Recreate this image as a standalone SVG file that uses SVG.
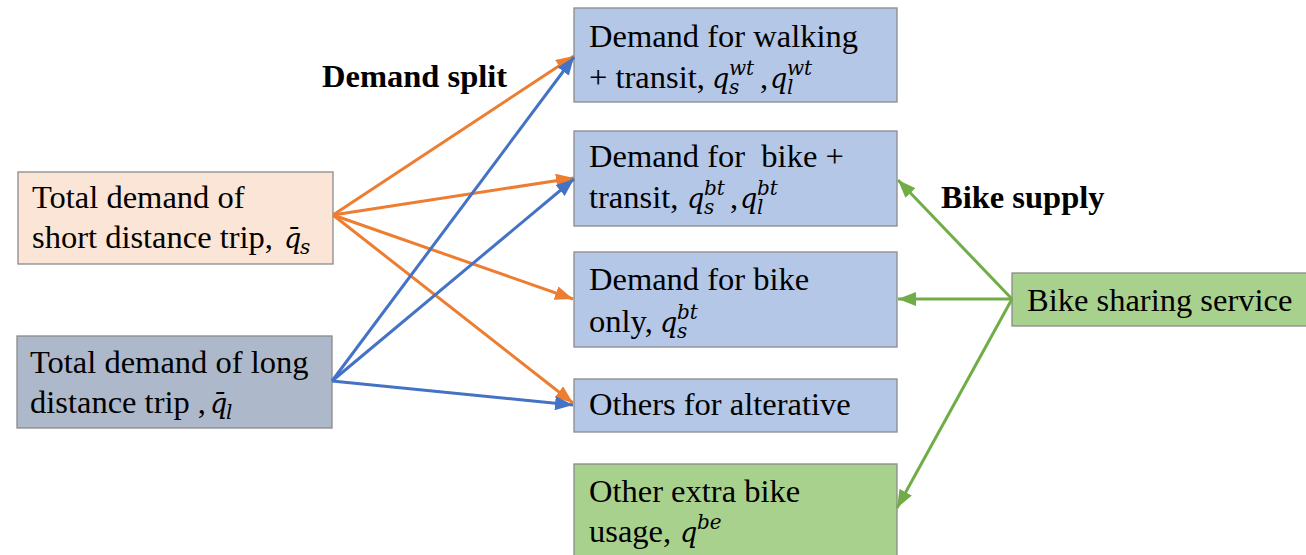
<svg xmlns="http://www.w3.org/2000/svg" width="1306" height="555" viewBox="0 0 1306 555">
  <style>
    .box { stroke: #8a8a8a; stroke-width: 1.3; }
    .blue { fill: #B4C7E7; }
    .peach { fill: #FBE5D6; }
    .slate { fill: #ADB9CA; }
    .green { fill: #A9D18E; }
    .t { font-size: 32.5px; }
    .m { font-family: "DejaVu Serif", serif; font-size: 27px; font-style: italic; }
    .s { font-family: "DejaVu Serif", serif; font-size: 20px; font-style: italic; }
    .lbl { font-size: 32.5px; font-weight: bold; }
    .c { fill: none; stroke-width: 3; }
    .or { stroke: #ED7D31; }
    .bl { stroke: #4472C4; }
    .gr { stroke: #70AD47; }
  </style>
  <defs>
    <marker id="ahO" markerUnits="userSpaceOnUse" markerWidth="18" markerHeight="14" refX="18" refY="7" orient="auto">
      <path d="M0,0 L18,7 L0,14 z" fill="#ED7D31"/>
    </marker>
    <marker id="ahB" markerUnits="userSpaceOnUse" markerWidth="18" markerHeight="14" refX="18" refY="7" orient="auto">
      <path d="M0,0 L18,7 L0,14 z" fill="#4472C4"/>
    </marker>
    <marker id="ahG" markerUnits="userSpaceOnUse" markerWidth="18" markerHeight="14" refX="18" refY="7" orient="auto">
      <path d="M0,0 L18,7 L0,14 z" fill="#70AD47"/>
    </marker>
  </defs>

  <rect width="1306" height="555" fill="#fff"/>

  <g font-family="Liberation Serif, serif" fill="#000">
    <!-- source nodes -->
    <g id="short-trip">
      <rect class="box peach" x="18" y="172" width="315" height="92"/>
      <text class="t" x="32" y="208">Total demand of</text>
      <text class="t" x="32" y="248">short distance trip,</text>
      <text class="m" x="284" y="248">q&#x0304;</text>
      <text class="s" x="300" y="254">s</text>
    </g>

    <g id="long-trip">
      <rect class="box slate" x="17" y="336" width="315" height="92"/>
      <text class="t" x="30" y="413" xml:space="preserve">distance trip ,</text>
      <text class="t" x="30" y="373">Total demand of long</text>
      <text class="m" x="210" y="413">q&#x0304;</text>
      <text class="s" x="226" y="419">l</text>
    </g>

    <!-- demand split targets -->
    <g id="walk-transit">
      <rect class="box blue" x="574" y="8" width="323" height="94"/>
      <text class="t" x="589" y="47">Demand for walking</text>
      <text class="t" x="589" y="88">+ transit,</text>
      <text class="m" x="712" y="88">q</text>
      <text class="s" x="729" y="94">s</text>
      <text class="s" x="729" y="75">wt</text>
      <text class="t" x="760" y="88">,</text>
      <text class="m" x="770" y="88">q</text>
      <text class="s" x="787" y="94">l</text>
      <text class="s" x="787" y="75">wt</text>
    </g>

    <g id="bike-transit">
      <rect class="box blue" x="574" y="131" width="323" height="95"/>
      <text class="t" x="589" y="167" xml:space="preserve">Demand for  bike +</text>
      <text class="t" x="589" y="208">transit,</text>
      <text class="m" x="687" y="208">q</text>
      <text class="s" x="704" y="214">s</text>
      <text class="s" x="704" y="195">bt</text>
      <text class="t" x="730" y="208">,</text>
      <text class="m" x="740" y="208">q</text>
      <text class="s" x="757" y="214">l</text>
      <text class="s" x="757" y="195">bt</text>
    </g>

    <g id="bike-only">
      <rect class="box blue" x="574" y="252" width="323" height="95"/>
      <text class="t" x="589" y="290">Demand for bike</text>
      <text class="t" x="589" y="332">only,</text>
      <text class="m" x="660" y="332">q</text>
      <text class="s" x="677" y="338">s</text>
      <text class="s" x="677" y="319">bt</text>
    </g>

    <g id="alternative">
      <rect class="box blue" x="574" y="379" width="323" height="53"/>
      <text class="t" x="589" y="415">Others for alterative</text>
    </g>

    <g id="extra-bike">
      <rect class="box green" x="574" y="464" width="323" height="93"/>
      <text class="t" x="589" y="502">Other extra bike</text>
      <text class="t" x="589" y="542">usage,</text>
      <text class="m" x="680" y="542">q</text>
      <text class="s" x="697" y="529">be</text>
    </g>

    <g id="bike-sharing">
      <rect class="box green" x="1012" y="273" width="300" height="53"/>
      <text class="t" x="1027" y="311">Bike sharing service</text>
    </g>

    <!-- section labels -->
    <text class="lbl" x="322" y="87">Demand split</text>
    <text class="lbl" x="941" y="208">Bike supply</text>
  </g>

  <!-- connectors -->
  <g id="connectors">
    <line class="c or" x1="333" y1="215" x2="574" y2="56" marker-end="url(#ahO)"/>
    <line class="c or" x1="333" y1="215" x2="574" y2="178" marker-end="url(#ahO)"/>
    <line class="c or" x1="333" y1="215" x2="573" y2="299" marker-end="url(#ahO)"/>
    <line class="c or" x1="333" y1="215" x2="573" y2="403" marker-end="url(#ahO)"/>
    <line class="c bl" x1="332" y1="381" x2="574" y2="57" marker-end="url(#ahB)"/>
    <line class="c bl" x1="332" y1="381" x2="574" y2="179" marker-end="url(#ahB)"/>
    <line class="c bl" x1="332" y1="381" x2="573" y2="405" marker-end="url(#ahB)"/>
    <line class="c gr" x1="1012" y1="299" x2="898" y2="180" marker-end="url(#ahG)"/>
    <line class="c gr" x1="1012" y1="299" x2="898" y2="299" marker-end="url(#ahG)"/>
    <line class="c gr" x1="1012" y1="299" x2="897" y2="508" marker-end="url(#ahG)"/>
  </g>
</svg>
